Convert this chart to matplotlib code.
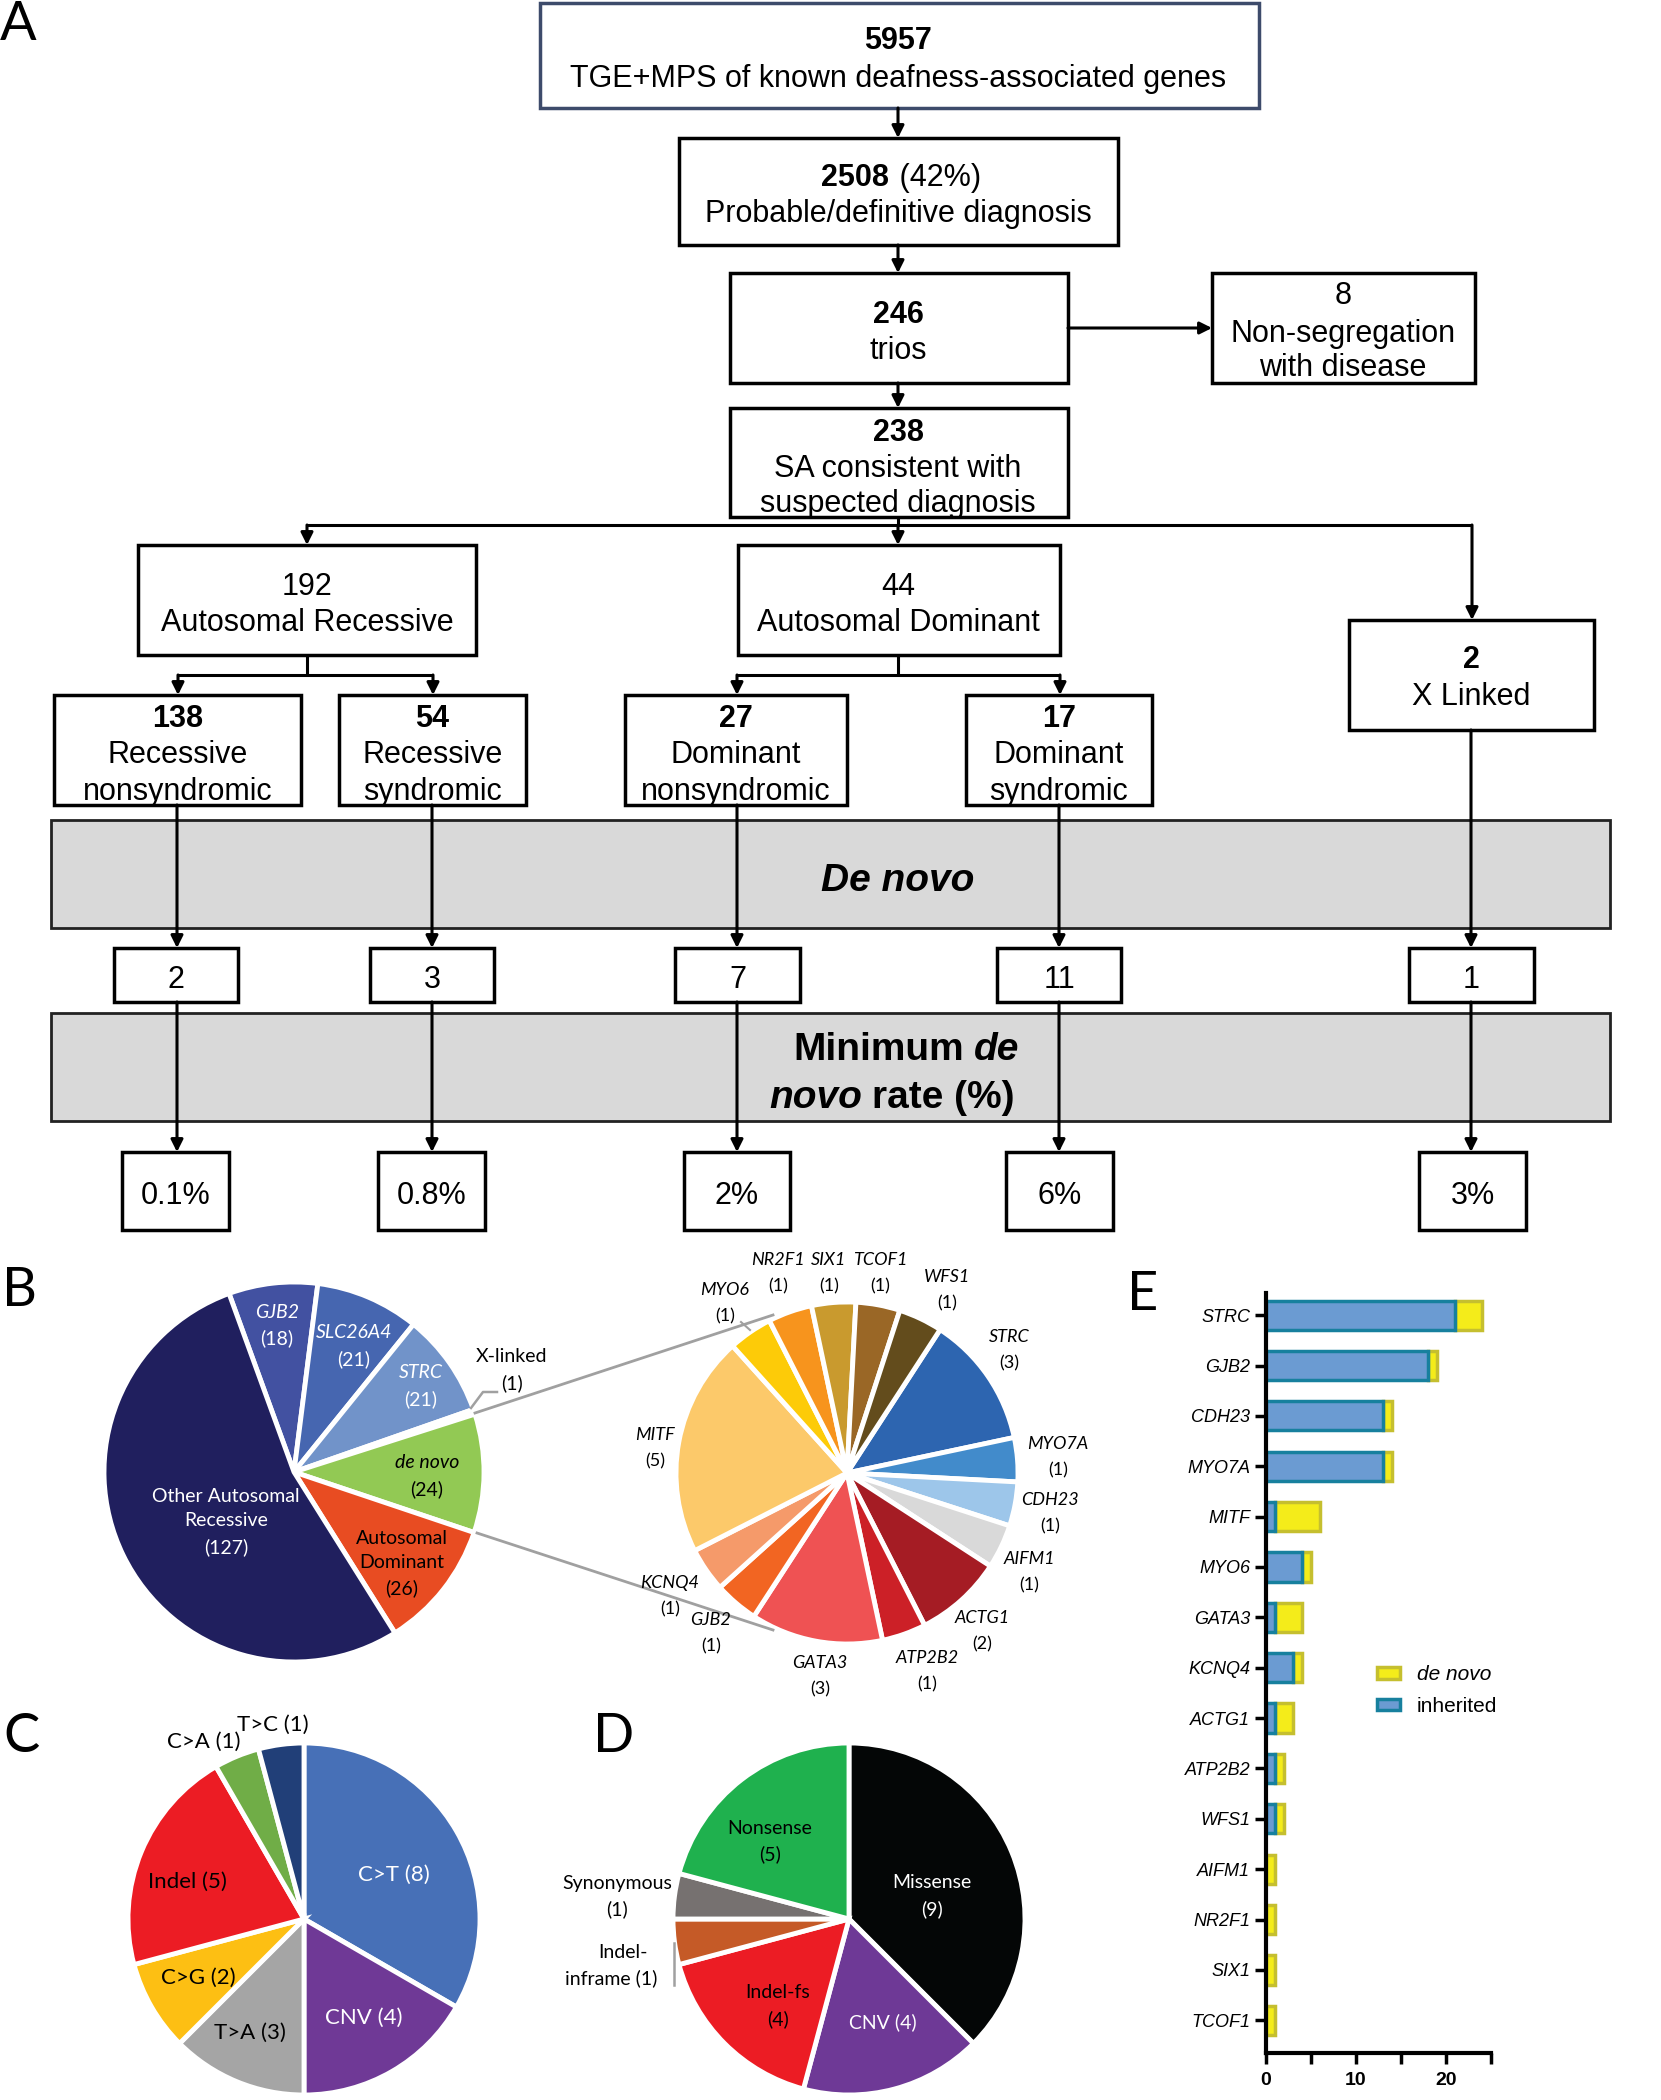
import matplotlib.pyplot as plt
from matplotlib.patches import Rectangle, Patch

W, H = 1661, 2100

# ---- A: flowchart counts
total_seq = 5957
diagnosed, diagnosed_pct = 2508, 42
trios = 246
non_seg = 8
consistent = 238
ar_total, ad_total, xl_total = 192, 44, 2
sub_counts = [138, 54, 27, 17]
sub_names = [['Recessive', 'nonsyndromic'], ['Recessive', 'syndromic'],
             ['Dominant', 'nonsyndromic'], ['Dominant', 'syndromic']]
denovo_counts = [2, 3, 7, 11, 1]
denovo_rates = ['0.1%', '0.8%', '2%', '6%', '3%']

# ---- B: inheritance of solved trios, and de novo genes
b_names = ['GJB2', 'SLC26A4', 'STRC', 'X-linked', 'de novo',
           'Autosomal Dominant', 'Other Autosomal Recessive']
b_counts = [18, 21, 21, 1, 24, 26, 127]
b_colors = ['#4251a1', '#4666b0', '#7193c9', '#b7c9e2', '#92c954',
            '#e84c22', '#201f5e']

dn_genes = ['STRC', 'MYO7A', 'CDH23', 'AIFM1', 'ACTG1', 'ATP2B2', 'GATA3',
            'GJB2', 'KCNQ4', 'MITF', 'MYO6', 'NR2F1', 'SIX1', 'TCOF1', 'WFS1']
dn_counts = [3, 1, 1, 1, 2, 1, 3, 1, 1, 5, 1, 1, 1, 1, 1]
dn_colors = ['#2d65b0', '#428bcb', '#9dc6ea', '#d9d9d9', '#a51c24',
             '#cc2027', '#ef5253', '#f26522', '#f59a6a', '#fcc96a',
             '#fdcb08', '#f7941d', '#c99a2e', '#9a6726', '#634c1c']

# ---- C: variant types
c_labels = ['C>T', 'CNV', 'T>A', 'C>G', 'Indel', 'C>A', 'T>C']
c_counts = [8, 4, 3, 2, 5, 1, 1]
c_colors = ['#4770b7', '#6f3996', '#a5a5a5', '#fdbf13', '#ec1c24',
            '#70ad47', '#213f78']

# ---- D: variant consequences
d_labels = ['Missense', 'CNV', 'Indel-fs', 'Indel-inframe', 'Synonymous',
            'Nonsense']
d_counts = [9, 4, 4, 1, 1, 5]
d_colors = ['#040606', '#6e3996', '#ec1c24', '#c55a27', '#767170', '#1fb14e']

# ---- E: inherited vs de novo per gene
e_genes = ['STRC', 'GJB2', 'CDH23', 'MYO7A', 'MITF', 'MYO6', 'GATA3', 'KCNQ4',
           'ACTG1', 'ATP2B2', 'WFS1', 'AIFM1', 'NR2F1', 'SIX1', 'TCOF1']
e_inherited = [21, 18, 13, 13, 1, 4, 1, 3, 1, 1, 1, 0, 0, 0, 0]
e_denovo = [3, 1, 1, 1, 5, 1, 3, 1, 2, 1, 1, 1, 1, 1, 1]

FLOW = 'Liberation Sans'
PIE = 'Lato'

fig = plt.figure(figsize=(W / 100, H / 100), dpi=100)


def draw_pie(cx, cy, r, counts, colors, start):
    ax = fig.add_axes([(cx - r) / W, 1 - (cy + r) / H, 2 * r / W, 2 * r / H])
    wedges, _ = ax.pie(counts, colors=colors, startangle=start,
                       counterclock=False, radius=1,
                       wedgeprops=dict(edgecolor='white', linewidth=3.5))
    for w in wedges:
        w.set_clip_on(False)
    ax.set_xlim(-1, 1)
    ax.set_ylim(-1, 1)
    ax.axis('off')
    return ax


draw_pie(294, 1472, 190, b_counts, b_colors, 110)
draw_pie(847, 1473, 171, dn_counts, dn_colors, 57)
draw_pie(304, 1919, 176, c_counts, c_colors, 90)
draw_pie(849, 1919, 176, d_counts, d_colors, 90)

# ---- E bar chart
ax = fig.add_axes([1266 / W, 1 - 2053 / H, (1491 - 1266) / W, (2053 - 1293) / H])
ypos = list(range(len(e_genes)))
inh_y = [i for i in ypos if e_inherited[i] > 0]
ax.barh(ypos, e_denovo, left=e_inherited, height=0.58, color='#f4ec1a',
        edgecolor='#c5bf2f', linewidth=2.5)
ax.barh(inh_y, [e_inherited[i] for i in inh_y], height=0.58, color='#6b9bd2',
        edgecolor='#17809e', linewidth=2.5)
ax.set_xlim(0, 25)
ax.set_ylim(len(e_genes) - 1 + 0.65, -0.44)
ax.set_yticks(ypos)
ax.set_yticklabels(e_genes, fontsize=13, style='italic', family=FLOW)
ax.set_xticks([0, 10, 20])
ax.set_xticklabels(['0', '10', '20'], fontsize=14, fontweight='bold', family=FLOW)
ax.set_xticks([5, 15, 25], minor=True)
ax.tick_params(axis='both', which='both', length=8, width=2.5, direction='out')
ax.tick_params(axis='x', pad=6)
for side in ['top', 'right']:
    ax.spines[side].set_visible(False)
for side in ['left', 'bottom']:
    ax.spines[side].set_linewidth(3)
ax.set_facecolor('none')
handles = [Patch(facecolor='#f4ec1a', edgecolor='#c5bf2f', linewidth=2.5),
           Patch(facecolor='#6b9bd2', edgecolor='#17809e', linewidth=2.5)]
leg = ax.legend(handles, ['de novo', 'inherited'], loc='upper left',
                bbox_to_anchor=(1367 / W, 1 - 1655 / H),
                bbox_transform=fig.transFigure, frameon=False,
                handlelength=1.1, handleheight=0.45, handletextpad=0.8,
                labelspacing=0.6, borderpad=0,
                prop={'family': FLOW, 'size': 15})
leg.get_texts()[0].set_style('italic')

# ---- overlay for flowchart and annotations (pixel coordinates)
ov = fig.add_axes([0, 0, 1, 1])
ov.set_xlim(0, W)
ov.set_ylim(H, 0)
ov.axis('off')
ov.set_zorder(5)


def txt(x, y, s, size=22, family=FLOW, **kw):
    ov.text(x, y, s, ha=kw.pop('ha', 'center'), va='center', fontsize=size,
            family=family, **kw)


def box(x0, y0, x1, y1, ec='black', fc='white', lw=2.5):
    ov.add_patch(Rectangle((x0, y0), x1 - x0, y1 - y0, facecolor=fc,
                           edgecolor=ec, linewidth=lw, zorder=1))


def arrow(x0, y0, x1, y1):
    ov.annotate('', xy=(x1, y1), xytext=(x0, y0),
                arrowprops=dict(arrowstyle='-|>', color='black', lw=2.2,
                                mutation_scale=18, shrinkA=0, shrinkB=0),
                zorder=3)


def line(xs, ys):
    ov.plot(xs, ys, color='black', lw=2.2, zorder=3, solid_capstyle='butt')


# boxes
box(540, 3, 1259, 108, ec='#3d4b6b')
box(679, 138, 1118, 245)
box(730, 273, 1068, 383)
box(1212, 273, 1475, 383)
box(730, 408, 1068, 517)
box(138, 545, 476, 655)
box(738, 545, 1060, 655)
box(1349, 620, 1594, 730)
sub_x = [(54, 301), (339, 526), (625, 847), (966, 1152)]
for x0, x1 in sub_x:
    box(x0, 695, x1, 805)
box(51, 820, 1610, 928, fc='#d9d9d9', ec='#222222', lw=2)
box(51, 1013, 1610, 1121, fc='#d9d9d9', ec='#222222', lw=2)
small_x = [(114, 238), (370, 494), (675, 800), (997, 1121), (1409, 1534)]
pct_x = [(122, 229), (378, 485), (684, 790), (1006, 1113), (1419, 1526)]
for x0, x1 in small_x:
    box(x0, 948, x1, 1002)
for x0, x1 in pct_x:
    box(x0, 1152, x1, 1230)

# connectors
arrow(898, 108, 898, 138)
arrow(898, 245, 898, 273)
arrow(898, 383, 898, 408)
arrow(1068, 328, 1212, 328)
line([898, 898], [517, 525])
line([307, 1472], [525, 525])
arrow(307, 525, 307, 545)
arrow(898, 525, 898, 545)
arrow(1472, 525, 1472, 620)
line([307, 307], [655, 675])
line([178, 433], [675, 675])
arrow(178, 675, 178, 695)
arrow(433, 675, 433, 695)
line([898, 898], [655, 675])
line([737, 1060], [675, 675])
arrow(737, 675, 737, 695)
arrow(1060, 675, 1060, 695)
cols = [177, 432, 737, 1059, 1471]
for i, cx in enumerate(cols):
    top = 730 if i == 4 else 805
    arrow(cx, top, cx, 948)
    arrow(cx, 1002, cx, 1152)

# flowchart text
D = 4
txt(898, 37 + D, f'{total_seq}', fontweight='bold')
txt(898, 75 + D, 'TGE+MPS of known deafness-associated genes')
txt(889, 174 + D, f'{diagnosed}', fontweight='bold', ha='right')
txt(891, 174 + D, f' ({diagnosed_pct}%)', ha='left')
txt(898, 210 + D, 'Probable/definitive diagnosis')
txt(898, 311 + D, f'{trios}', fontweight='bold')
txt(898, 347 + D, 'trios')
txt(1343, 292 + D, f'{non_seg}')
txt(1343, 330 + D, 'Non-segregation')
txt(1343, 364 + D, 'with disease')
txt(898, 429 + D, f'{consistent}', fontweight='bold')
txt(898, 465 + D, 'SA consistent with')
txt(898, 500 + D, 'suspected diagnosis')
txt(307, 583 + D, f'{ar_total}')
txt(307, 619 + D, 'Autosomal Recessive')
txt(898, 583 + D, f'{ad_total}')
txt(898, 619 + D, 'Autosomal Dominant')
txt(1471, 656 + D, f'{xl_total}', fontweight='bold')
txt(1471, 693 + D, 'X Linked')
for (x0, x1), n, nm in zip(sub_x, sub_counts, sub_names):
    cx = (x0 + x1) / 2
    txt(cx, 715 + D, f'{n}', fontweight='bold')
    txt(cx, 751 + D, nm[0])
    txt(cx, 788 + D, nm[1])
txt(898, 877 + D, 'De novo', size=28, fontweight='bold', style='italic')
txt(964, 1046 + D, 'Minimum', size=28, fontweight='bold', ha='right')
txt(974, 1046 + D, 'de', size=28, fontweight='bold', style='italic', ha='left')
txt(862, 1094 + D, 'novo', size=28, fontweight='bold', style='italic', ha='right')
txt(872, 1094 + D, 'rate (%)', size=28, fontweight='bold', ha='left')
for (x0, x1), n in zip(small_x, denovo_counts):
    txt((x0 + x1) / 2, 976 + D, f'{n}')
for (x0, x1), r in zip(pct_x, denovo_rates):
    txt((x0 + x1) / 2, 1192 + D, r)

# panel letters
for x, y, s in [(0, 40, 'A'), (2, 1306, 'B'), (3, 1752, 'C'),
                (593, 1752, 'D'), (1127, 1310, 'E')]:
    ov.text(x, y, s, fontsize=39, family=PIE, ha='left', va='baseline')

# ---- B labels
GAP = 26


def two(x, y, name, count, color='black', size=14, italic=True):
    txt(x, y, name, size=size, family=PIE, color=color,
        style='italic' if italic else 'normal')
    txt(x, y + GAP, f'({count})', size=size, family=PIE, color=color)


b_pos = [(277, 1312), (354, 1333), (421, 1373), (512, 1357), (427, 1463)]
for i, (x, y) in enumerate(b_pos):
    col = 'white' if i < 3 else 'black'
    two(x, y, b_names[i], b_counts[i], color=col, italic=(i != 3))
txt(402, 1538, 'Autosomal', size=14, family=PIE)
txt(402, 1563, 'Dominant', size=14, family=PIE)
txt(402, 1588, f'({b_counts[5]})', size=14, family=PIE)
txt(226, 1496, 'Other Autosomal', size=14, family=PIE, color='white')
txt(226, 1521, 'Recessive', size=14, family=PIE, color='white')
txt(226, 1547, f'({b_counts[6]})', size=14, family=PIE, color='white')
ov.plot([471, 483, 497], [1408, 1392, 1392], color='#a0a0a0', lw=1.8)

# zoom lines between pies
ov.plot([475, 773], [1413, 1315], color='#a0a0a0', lw=2)
ov.plot([477, 773], [1533, 1630], color='#a0a0a0', lw=2)

# de novo gene labels
dn_pos = [(1009, 1337), (1058, 1444), (1050, 1500), (1029, 1559),
          (982, 1618), (927, 1658), (820, 1663), (711, 1620), (670, 1583),
          (655, 1435), (725, 1290), (778, 1260), (829, 1260), (880, 1260),
          (947, 1277)]
for (x, y), g, n in zip(dn_pos, dn_genes, dn_counts):
    two(x, y, g, n, size=13)
ov.plot([741, 750], [1322, 1330], color='#a0a0a0', lw=1.5)

# ---- C labels
c_pos = [(394, 1875), (364, 2018), (250, 2033), (198, 1978), (187, 1882),
         (204, 1742), (273, 1725)]
for i, ((x, y), lab, n) in enumerate(zip(c_pos, c_labels, c_counts)):
    col = 'white' if i < 2 else 'black'
    txt(x, y, f'{lab} ({n})', size=16, family=PIE, color=col)

# ---- D labels
two(932, 1883, d_labels[0], d_counts[0], color='white', italic=False)
txt(883, 2022, f'{d_labels[1]} ({d_counts[1]})', size=14, family=PIE, color='white')
two(778, 1993, d_labels[2], d_counts[2], italic=False)
two(770, 1828, d_labels[5], d_counts[5], italic=False)
two(617, 1883, d_labels[4], d_counts[4], italic=False)
txt(623, 1953, 'Indel-', size=14, family=PIE)
txt(611, 1978, f'inframe ({d_counts[3]})', size=14, family=PIE)
ov.plot([674, 674], [1943, 1985], color='#a0a0a0', lw=1.8)

fig.savefig('out.png', dpi=100, facecolor='white')
